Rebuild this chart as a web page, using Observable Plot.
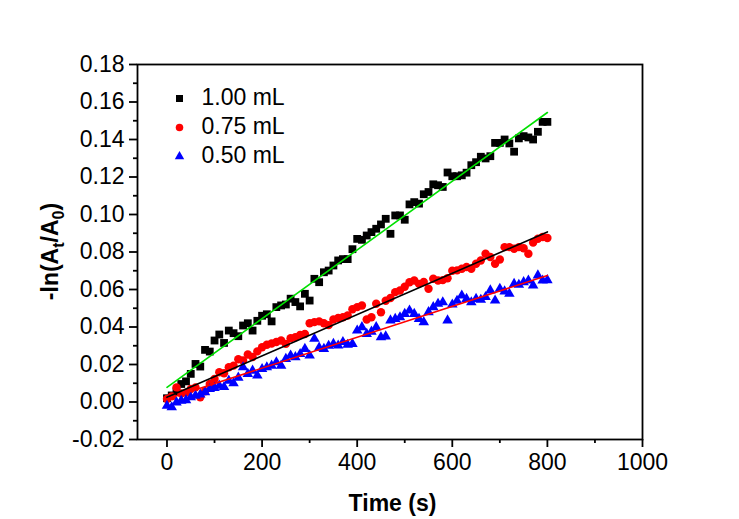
<!DOCTYPE html>
<html>
<head>
<meta charset="utf-8">
<script src="https://cdn.jsdelivr.net/npm/d3@7"></script>
<script src="https://cdn.jsdelivr.net/npm/@observablehq/plot@0.6"></script>
<style>
  html, body { margin: 0; padding: 0; background: #fff; }
  #chart svg { display: block; }
</style>
</head>
<body>
<div id="chart"></div>
<script>
// ---- data ----
const time = [0,10,20,30,40,50,60,70,80,90,
  100,110,120,130,140,150,160,170,180,190,
  200,210,220,230,240,250,260,270,280,290,
  300,310,320,330,340,350,360,370,380,390,
  400,410,420,430,440,450,460,470,480,490,
  500,510,520,530,540,550,560,570,580,590,
  600,610,620,630,640,650,660,670,680,690,
  700,710,720,730,740,750,760,770,780,790,
  800];

const series100 = [0.0020,0.0035,0.0055,0.0096,0.0110,0.0150,0.0203,0.0189,0.0278,0.0269,
  0.0328,0.0360,0.0315,0.0381,0.0367,0.0351,0.0408,0.0420,0.0381,0.0433,
  0.0460,0.0468,0.0430,0.0506,0.0515,0.0520,0.0551,0.0533,0.0510,0.0577,
  0.0541,0.0657,0.0639,0.0692,0.0701,0.0728,0.0755,0.0762,0.0762,0.0815,
  0.0870,0.0865,0.0888,0.0906,0.0924,0.0947,0.0977,0.0897,0.0995,0.0995,
  0.0972,0.1054,0.1066,0.1058,0.1108,0.1120,0.1161,0.1156,0.1147,0.1224,
  0.1204,0.1204,0.1209,0.1223,0.1263,0.1279,0.1308,0.1299,0.1311,0.1382,
  0.1382,0.1400,0.1379,0.1335,0.1406,0.1418,0.1411,0.1400,0.1441,0.1494,
  0.1494];

const series075 = [0.0016,0.0030,0.0078,0.0045,0.0050,0.0069,0.0078,0.0025,0.0057,0.0096,
  0.0123,0.0159,0.0153,0.0185,0.0194,0.0228,0.0221,0.0253,0.0240,0.0270,
  0.0292,0.0305,0.0312,0.0320,0.0328,0.0310,0.0340,0.0345,0.0358,0.0363,
  0.0420,0.0426,0.0430,0.0420,0.0410,0.0440,0.0448,0.0452,0.0461,0.0495,
  0.0506,0.0515,0.0440,0.0452,0.0524,0.0479,0.0540,0.0555,0.0586,0.0595,
  0.0615,0.0639,0.0648,0.0630,0.0640,0.0604,0.0657,0.0648,0.0650,0.0660,
  0.0700,0.0702,0.0711,0.0720,0.0711,0.0737,0.0755,0.0791,0.0773,0.0737,
  0.0760,0.0826,0.0826,0.0817,0.0826,0.0820,0.0791,0.0850,0.0871,0.0880,
  0.0875];

const series050 = [-0.0020,-0.0028,-0.0002,0.0007,0.0010,0.0025,0.0034,0.0040,0.0052,0.0069,
  0.0075,0.0087,0.0080,0.0114,0.0100,0.0130,0.0185,0.0150,0.0167,0.0141,
  0.0176,0.0185,0.0194,0.0212,0.0194,0.0230,0.0248,0.0239,0.0256,0.0283,
  0.0248,0.0337,0.0290,0.0283,0.0300,0.0310,0.0301,0.0320,0.0305,0.0310,
  0.0381,0.0399,0.0363,0.0375,0.0399,0.0345,0.0350,0.0435,0.0443,0.0452,
  0.0470,0.0488,0.0470,0.0443,0.0426,0.0479,0.0506,0.0524,0.0532,0.0435,
  0.0520,0.0540,0.0568,0.0550,0.0532,0.0550,0.0545,0.0560,0.0595,0.0541,
  0.0604,0.0590,0.0577,0.0630,0.0625,0.0639,0.0648,0.0622,0.0675,0.0648,
  0.0650];

// linear fits (endpoints)
const fitTime = [0, 800];
const fit100 = [0.0078, 0.1544];
const fit075 = [0.0025, 0.0907];
const fit050 = [0.0016, 0.0675];

const legendLabels = ["1.00 mL", "0.75 mL", "0.50 mL"];
const legendColors = ["#000000", "#ff0000", "#0000ff"];
const legendSymbols = ["square", "circle", "triangle"];

const xMajor = [0, 200, 400, 600, 800, 1000];
const xMinor = [100, 300, 500, 700, 900];
const yMajor = [-0.02, 0.00, 0.02, 0.04, 0.06, 0.08, 0.10, 0.12, 0.14, 0.16, 0.18];
const yMinor = [-0.01, 0.01, 0.03, 0.05, 0.07, 0.09, 0.11, 0.13, 0.15, 0.17];

// ---- build ----
const W = 739, H = 519, mL = 137, mR = 97, mT = 64, mB = 80;
const FONT = "'Liberation Sans', Arial, Helvetica, sans-serif";
const toRows = (vals) => time.map((t, i) => ({t, v: vals[i]}));
const fitRows = (vals) => fitTime.map((t, i) => ({t, v: vals[i]}));

const symR = {square: 4.4, circle: 4.2, triangle: 3.9};

const legendMarks = legendLabels.flatMap((lab, i) => [
  Plot.dot([lab], {frameAnchor: "top-left", dx: 42, dy: 34 + i * 29,
    symbol: legendSymbols[i], fill: legendColors[i], stroke: "none", r: symR[legendSymbols[i]] * 0.9}),
  Plot.text([lab], {frameAnchor: "top-left", dx: 64, dy: 33 + i * 29, text: d => d,
    textAnchor: "start", lineAnchor: "middle", fontSize: 23, fill: "#000"})
]);

const chart = Plot.plot({
  width: W, height: H,
  marginLeft: mL, marginRight: mR, marginTop: mT, marginBottom: mB,
  style: {fontFamily: FONT, fontSize: "23px", background: "#fff", color: "#000", overflow: "visible"},
  x: {domain: [-62, 1000], label: null},
  y: {domain: [-0.02, 0.18], label: null},
  marks: [
    Plot.axisX({ticks: xMajor, tickSize: 8, tickPadding: 6, tickFormat: d => String(d), strokeWidth: 1.8, label: null, fontSize: 23}),
    Plot.axisX({ticks: xMinor, tickSize: 4, tickFormat: () => "", strokeWidth: 1.8, label: null}),
    Plot.axisY({ticks: yMajor, tickSize: 8, tickPadding: 5, tickFormat: d => d.toFixed(2), strokeWidth: 1.8, label: null, fontSize: 23}),
    Plot.axisY({ticks: yMinor, tickSize: 4, tickFormat: () => "", strokeWidth: 1.8, label: null}),
    Plot.frame({stroke: "#000", strokeWidth: 1.8}),
    Plot.dot(toRows(series100), {x: "t", y: "v", symbol: "square", fill: "#000000", stroke: "none", r: symR.square}),
    Plot.dot(toRows(series075), {x: "t", y: "v", symbol: "circle", fill: "#ff0000", stroke: "none", r: symR.circle}),
    Plot.dot(toRows(series050), {x: "t", y: "v", symbol: "triangle", fill: "#0000ff", stroke: "none", r: symR.triangle}),
    Plot.line(fitRows(fit100), {x: "t", y: "v", stroke: "#00e000", strokeWidth: 1.6}),
    Plot.line(fitRows(fit075), {x: "t", y: "v", stroke: "#000000", strokeWidth: 1.6}),
    Plot.line(fitRows(fit050), {x: "t", y: "v", stroke: "#ff0000", strokeWidth: 1.6}),
    ...legendMarks
  ]
});

document.getElementById("chart").appendChild(chart);

// axis titles (with subscripts)
const svg = d3.select(chart);
const plotMidX = (mL + (W - mR)) / 2;
const plotMidY = (mT + (H - mB)) / 2;

svg.append("text")
  .attr("x", plotMidX + 3).attr("y", 511)
  .attr("text-anchor", "middle")
  .attr("font-family", FONT).attr("font-weight", "bold").attr("font-size", 23)
  .attr("fill", "#000")
  .text("Time (s)");

const yt = svg.append("text")
  .attr("transform", `translate(58,${plotMidY}) rotate(-90)`)
  .attr("text-anchor", "middle")
  .attr("font-family", FONT).attr("font-weight", "bold").attr("font-size", 23)
  .attr("fill", "#000");
yt.append("tspan").text("-ln(A");
yt.append("tspan").attr("font-size", 16).attr("dy", 6).text("t");
yt.append("tspan").attr("dy", -6).text("/A");
yt.append("tspan").attr("font-size", 16).attr("dy", 6).text("0");
yt.append("tspan").attr("dy", -6).text(")");
</script>
</body>
</html>
